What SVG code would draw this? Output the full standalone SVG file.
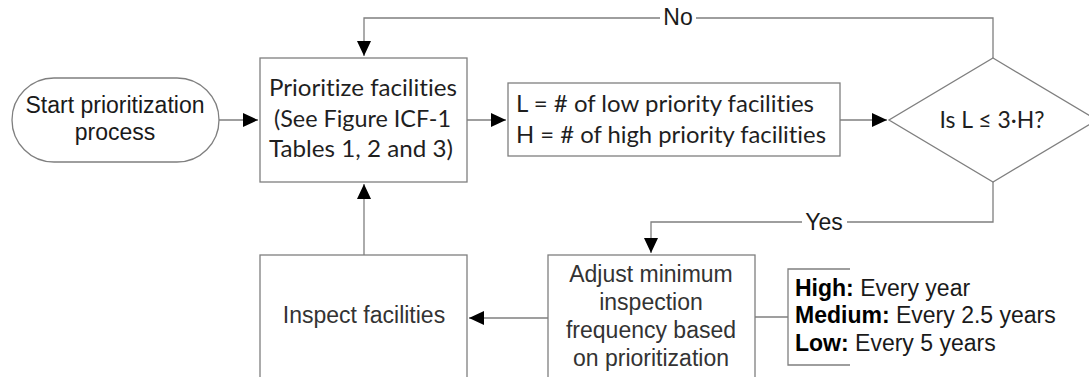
<svg xmlns="http://www.w3.org/2000/svg" width="1089" height="377" viewBox="0 0 1089 377">
  <style>
    .shape { fill: none; stroke: #7f7f7f; stroke-width: 1.3; }
    .conn { fill: none; stroke: #7f7f7f; stroke-width: 1.3; }
    .cal { font-family: Lato, "Open Sans", sans-serif; font-size: 24px; fill: #1f1f1f; font-variant-ligatures: none; font-feature-settings: "liga" 0, "clig" 0; }
    .ari { font-family: "Liberation Sans", Arial, sans-serif; font-size: 23px; fill: #1a1a1a; }
    .gry { fill: #333333; }
    .mid { text-anchor: middle; }
    .b { font-weight: bold; fill: #000; }
  </style>
  <defs>
    <marker id="arr" markerUnits="userSpaceOnUse" markerWidth="16" markerHeight="16" refX="15" refY="7" orient="auto">
      <path d="M0,0 L15,7 L0,14 Z" fill="#000"/>
    </marker>
  </defs>
  <rect width="1089" height="377" fill="#ffffff"/>
  <g id="connectors">
    <path class="conn" d="M219,120 H258" marker-end="url(#arr)"/>
    <path class="conn" d="M467,120 H506" marker-end="url(#arr)"/>
    <path class="conn" d="M840,120 H887" marker-end="url(#arr)"/>
    <path class="conn" d="M993,58 V18 H696 M660,18 H364 V56" marker-end="url(#arr)"/>
    <path class="conn" d="M993,182 V222 H847 M802,222 H651 V253" marker-end="url(#arr)"/>
    <path class="conn" d="M548,318 H469" marker-end="url(#arr)"/>
    <path class="conn" d="M364,255 V184" marker-end="url(#arr)"/>
    <path class="conn" d="M755,317 H788"/>
    <text class="ari" x="678" y="25" text-anchor="middle">No</text>
    <text class="ari" x="824" y="230" text-anchor="middle">Yes</text>
  </g>
  <g id="start">
    <rect class="shape" x="12" y="78" width="207" height="84" rx="42" ry="42"/>
    <text class="ari mid" x="115" y="113">Start prioritization</text>
    <text class="ari mid" x="115" y="140">process</text>
  </g>
  <g id="prioritize">
    <rect class="shape" x="260" y="58" width="207" height="124"/>
    <text class="cal mid" x="363" y="96" textLength="188" lengthAdjust="spacingAndGlyphs">Prioritize facilities</text>
    <text class="cal mid" x="362.5" y="126.5" textLength="177" lengthAdjust="spacingAndGlyphs">(See Figure ICF-1</text>
    <text class="cal mid" x="361" y="157" textLength="184" lengthAdjust="spacingAndGlyphs">Tables 1, 2 and 3)</text>
  </g>
  <g id="counts">
    <rect class="shape" x="508" y="83" width="332" height="73"/>
    <text class="cal" x="516" y="112" textLength="298" lengthAdjust="spacingAndGlyphs">L = # of low priority facilities</text>
    <text class="cal" x="516" y="143" textLength="310" lengthAdjust="spacingAndGlyphs">H = # of high priority facilities</text>
  </g>
  <g id="decision">
    <polygon class="shape" points="993,58 1097,120 993,182 889,120"/>
    <text class="cal mid" x="992" y="128" textLength="105" lengthAdjust="spacingAndGlyphs">Is L ≤ 3·H?</text>
  </g>
  <g id="adjust">
    <rect class="shape" x="548" y="255" width="207" height="140"/>
    <text class="ari gry mid" x="651" y="282">Adjust minimum</text>
    <text class="ari gry mid" x="651" y="310">inspection</text>
    <text class="ari gry mid" x="651" y="338">frequency based</text>
    <text class="ari gry mid" x="651" y="366">on prioritization</text>
  </g>
  <g id="inspect">
    <rect class="shape" x="260" y="255" width="207" height="140"/>
    <text class="ari gry mid" x="364" y="323">Inspect facilities</text>
  </g>
  <g id="frequency-note">
    <path class="shape" d="M850,269 H788 V365 H850"/>
    <text class="ari" x="795" y="296"><tspan class="b">High:</tspan> Every year</text>
    <text class="ari" x="795" y="323"><tspan class="b">Medium:</tspan> Every 2.5 years</text>
    <text class="ari" x="795" y="351"><tspan class="b">Low:</tspan> Every 5 years</text>
  </g>
</svg>
